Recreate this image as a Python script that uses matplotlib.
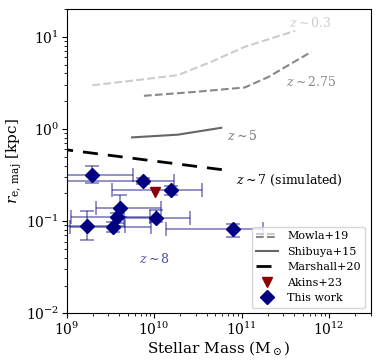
import numpy as np
import matplotlib
matplotlib.use("Agg")
import matplotlib.pyplot as plt
from matplotlib.lines import Line2D
from matplotlib.legend_handler import HandlerBase

plt.rcParams['font.family'] = ['DejaVu Serif']
plt.rcParams['mathtext.fontset'] = 'dejavuserif'

# Mowla+19 relations
mowla03_mass = [1.97e9, 4.9e9, 1.86e10, 4.5e10, 1.09e11, 4.1e11]
mowla03_re = [2.98, 3.29, 3.83, 5.35, 7.79, 11.6]
mowla275_mass = [7.65e9, 2.88e10, 1.09e11, 2.03e11, 3.44e11, 6.28e11]
mowla275_re = [2.29, 2.52, 2.82, 3.67, 4.92, 6.87]
# Shibuya+15 z~5
shib_mass = [5.6e9, 1.86e10, 5.86e10]
shib_re = [0.81, 0.867, 1.03]
# Marshall+20 z~7 simulated
marsh_mass = [8e8, 7e10]
marsh_re = [0.61, 0.355]
# Akins+23
akins_mass = [1.02e10]
akins_re = [0.207]
# This work
tw_mass = [1.97e9, 7.5e9, 1.57e10, 4.08e9, 3.80e9, 1.06e10, 1.73e9, 3.36e9, 8.0e10]
tw_re = [0.313, 0.274, 0.217, 0.138, 0.110, 0.109, 0.089, 0.087, 0.082]
tw_mass_lo = [7e8, 7e8, 3.3e9, 2.16e9, 1.11e9, 4.5e9, 8e8, 1.1e9, 1.36e10]
tw_mass_hi = [5.77e9, 1.70e10, 3.54e10, 1.19e10, 8.98e9, 2.59e10, 4.7e9, 9.2e9, 1.77e11]
tw_re_lo = [0.259, 0.252, 0.193, 0.112, 0.095, 0.099, 0.063, 0.077, 0.068]
tw_re_hi = [0.399, 0.293, 0.242, 0.190, 0.122, 0.133, 0.129, 0.097, 0.093]

tw_mass = np.array(tw_mass); tw_re = np.array(tw_re)
xerr = [tw_mass - np.array(tw_mass_lo), np.array(tw_mass_hi) - tw_mass]
yerr = [tw_re - np.array(tw_re_lo), np.array(tw_re_hi) - tw_re]

fig = plt.figure(figsize=(3.83, 3.61), dpi=100)
ax = fig.add_axes([0.174, 0.132, 0.794, 0.843])

l1, = ax.plot(mowla03_mass, mowla03_re, ls='--', color='#cccccc', lw=1.5)
l2, = ax.plot(mowla275_mass, mowla275_re, ls='--', color='#888888', lw=1.5)
l3, = ax.plot(shib_mass, shib_re, ls='-', color='#666666', lw=1.5, label='Shibuya+15')
l4, = ax.plot(marsh_mass, marsh_re, color='black', lw=2, dashes=(5.4, 3.6), label='Marshall+20')

ax.errorbar(tw_mass, tw_re, xerr=xerr, yerr=yerr, fmt='none', ecolor='navy',
            alpha=0.5, elinewidth=1.2, capsize=5, capthick=1.2, zorder=3)
l5, = ax.plot(akins_mass, akins_re, 'v', color='darkred', ms=6.5, ls='none', label='Akins+23', zorder=4)
l6, = ax.plot(tw_mass, tw_re, 'D', color='navy', ms=6.8, ls='none', label='This work', zorder=5)

ax.text(3.5e11, 14.2, r'$z\sim0.3$', color='#cccccc', fontsize=9, va='center', ha='left')
ax.text(3.2e11, 3.25, r'$z\sim2.75$', color='#888888', fontsize=9, va='center', ha='left')
ax.text(6.8e10, 0.83, r'$z\sim5$', color='#777777', fontsize=9, va='center', ha='left')
ax.text(8.6e10, 0.276, r'$z\sim7$ (simulated)', color='black', fontsize=9, va='center', ha='left')
ax.text(1.0e10, 0.039, r'$z\sim8$', color='#4d4da6', fontsize=9, va='center', ha='center')

ax.set_xscale('log'); ax.set_yscale('log')
ax.set_xlim(1e9, 3e12)
ax.set_ylim(1e-2, 20)
ax.tick_params(labelsize=10, pad=2)
ax.set_xlabel(r'Stellar Mass (M$_\odot$)', fontsize=11, labelpad=1)
ax.set_ylabel(r'$r_{\rm e,\,maj}$ [kpc]', fontsize=11, labelpad=1)


class Stacked(HandlerBase):
    def create_artists(self, legend, orig_handle, xdescent, ydescent, width, height, fontsize, trans):
        arts = []
        for i, h in enumerate(orig_handle):
            y = height / 2 - ydescent + (1 - 2 * i) * 1.2
            ln = Line2D([-xdescent, width - xdescent], [y, y], color=h.get_color(), ls='--', lw=1.5)
            ln.set_transform(trans)
            arts.append(ln)
        return arts


ax.legend([(l1, l2), l3, l4, l5, l6], ['Mowla+19', 'Shibuya+15', 'Marshall+20', 'Akins+23', 'This work'],
          handler_map={tuple: Stacked()}, loc='lower right', fontsize=8)

fig.savefig('out.png', dpi=100)
